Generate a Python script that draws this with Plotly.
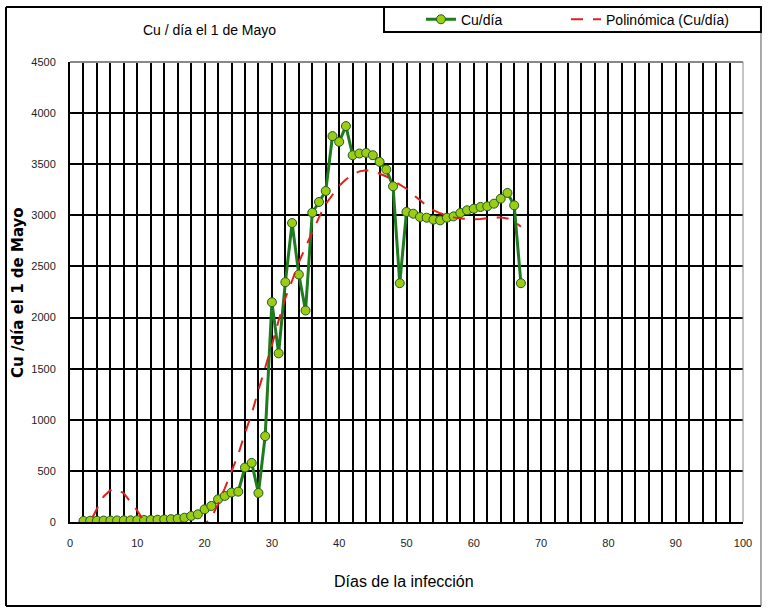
"""Cu/dia el 1 de Mayo: serie diaria con linea de tendencia polinomica."""
import plotly.graph_objects as go

FONT = "Liberation Sans, Arial, sans-serif"

dias = list(range(2, 68))

cu_dia = [
    10, 12, 12, 14, 14, 15, 16, 16, 18, 20,
    20, 22, 25, 28, 32, 42, 59, 75, 124, 157,
    222, 255, 288, 297, 533, 578, 284, 840, 2150, 1650,
    2346, 2925, 2421, 2069, 3026, 3131, 3238, 3775, 3719, 3873,
    3588, 3605, 3611, 3588, 3523, 3448, 3284, 2336, 3033, 3016,
    2984, 2977, 2958, 2951, 2977, 2990, 3023, 3049, 3065, 3082,
    3088, 3114, 3163, 3219, 3098, 2336,
]

# tendencia polinomica (los tramos negativos quedan recortados)
tendencia = [
    -150, 0, 130, 250, 310, 320, 280, 200, 110, 10,
    -80, -150, -200, -230, -240, -220, -170, -100, -20, 40,
    176, 330, 490, 660, 870, 1060, 1290, 1500, 1730, 1970,
    2190, 2360, 2540, 2690, 2840, 2980, 3110, 3200, 3290, 3350,
    3400, 3430, 3440, 3435, 3410, 3380, 3340, 3300, 3260, 3200,
    3150, 3090, 3050, 3020, 3000, 2980, 2970, 2965, 2960, 2965,
    2975, 2980, 2980, 2970, 2940, 2890,
]

fig = go.Figure()
fig.add_trace(go.Scatter(
    x=dias,
    y=cu_dia,
    mode="lines+markers",
    name="Cu/día",
    line=dict(color="#1e7b1e", width=3),
    marker=dict(size=9, color="#9ccc14", line=dict(color="#1e5a1e", width=1)),
    legend="legend",
))
fig.add_trace(go.Scatter(
    x=dias,
    y=tendencia,
    mode="lines",
    name="Polinómica (Cu/día)",
    line=dict(color="#e0201c", width=2, dash="12px,10px"),
    legend="legend2",
))

fig.update_xaxes(
    range=[0, 100],
    dtick=10,
    showgrid=True,
    gridcolor="black",
    gridwidth=1.5,
    minor=dict(dtick=2, showgrid=True, gridcolor="black", gridwidth=1.5),
    showline=True,
    linecolor="black",
    linewidth=2,
    zeroline=False,
    ticklabelstandoff=10,
    tickfont=dict(family=FONT, size=11, color="#222"),
)
fig.update_yaxes(
    range=[0, 4500],
    dtick=500,
    showgrid=True,
    gridcolor="black",
    gridwidth=2,
    showline=True,
    linecolor="black",
    linewidth=2,
    zeroline=False,
    ticklabelstandoff=10,
    tickfont=dict(family=FONT, size=11, color="#222"),
)

shapes = [
    # marco exterior
    dict(type="line", xref="paper", yref="paper", x0=-0.0951, x1=1.0267, y0=1.1196, y1=1.1196,
         line=dict(color="black", width=2)),
    dict(type="line", xref="paper", yref="paper", x0=-0.0951, x1=1.0267, y0=-0.1826, y1=-0.1826,
         line=dict(color="black", width=2)),
    dict(type="line", xref="paper", yref="paper", x0=-0.0951, x1=-0.0951, y0=-0.1826, y1=1.1196,
         line=dict(color="black", width=2)),
    dict(type="line", xref="paper", yref="paper", x0=1.0267, x1=1.0267, y0=-0.1826, y1=1.1196,
         line=dict(color="#555", width=1)),
    # borde superior y derecho del area de trazado
    dict(type="line", xref="paper", yref="paper", x0=0, x1=1, y0=1, y1=1,
         line=dict(color="#888", width=2)),
    dict(type="line", xref="paper", yref="paper", x0=1, x1=1, y0=0, y1=1,
         line=dict(color="#888", width=1)),
    # caja de la leyenda
    dict(type="rect", xref="paper", yref="paper", x0=0.4666, x1=1.0267, y0=1.0652, y1=1.1196,
         line=dict(color="black", width=2)),
]

annotations = [
    dict(text="Cu / día el 1 de Mayo", xref="paper", yref="paper", x=0.208, y=1.091,
         xanchor="center", showarrow=False, font=dict(family=FONT, size=14, color="black")),
    dict(text="Días de la infección", xref="paper", yref="paper", x=0.496, y=-0.152,
         xanchor="center", showarrow=False, font=dict(family=FONT, size=16, color="black")),
    dict(text="<b>Cu /día el 1 de Mayo</b>", xref="paper", yref="paper", x=-0.0773, y=0.5,
         xanchor="center", textangle=-90, showarrow=False,
         font=dict(family="DejaVu Sans, sans-serif", size=15, color="black")),
]

legend_style = dict(
    orientation="h",
    y=1.092,
    xanchor="left",
    yanchor="middle",
    bgcolor="rgba(0,0,0,0)",
    font=dict(family=FONT, size=14, color="black"),
)

fig.update_layout(
    width=768,
    height=614,
    margin=dict(l=70, r=25, t=62, b=92, autoexpand=False),
    paper_bgcolor="white",
    plot_bgcolor="white",
    showlegend=True,
    legend=dict(x=0.5215, **legend_style),
    legend2=dict(x=0.737, **legend_style),
    shapes=shapes,
    annotations=annotations,
)

fig.write_html(
    "out.html",
    config={"displayModeBar": False},
    post_script="document.body.style.margin = '0px';",
)
